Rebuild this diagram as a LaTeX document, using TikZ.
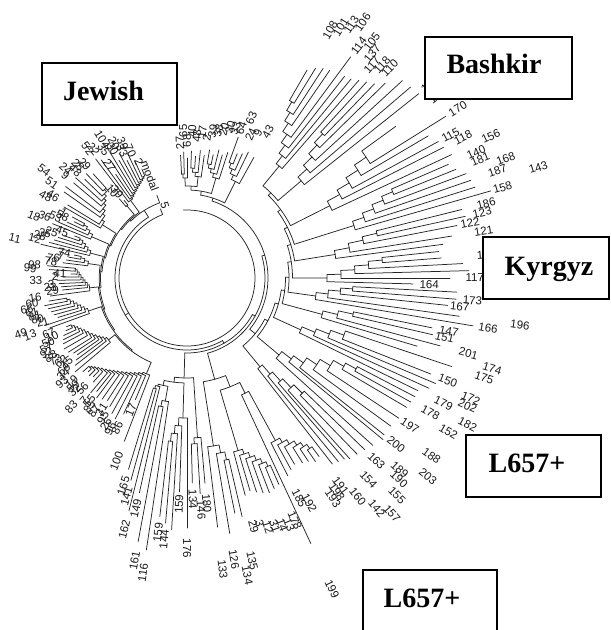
\documentclass[tikz,border=0pt]{standalone}
\usepackage{fontspec}
\setmainfont{Liberation Serif}
\newfontfamily\labfont{Liberation Sans}
\tikzset{
  br/.style={draw=black!85, line width=0.75pt, line cap=round},
  lab/.style={font=\labfont\fontsize{11.5}{11.5}\selectfont, inner sep=0.5pt, text=black!90},
  tag/.style={draw=black, line width=1.8pt, fill=white, inner sep=0pt},
  tagtext/.style={font=\bfseries\fontsize{28}{28}\selectfont, inner sep=0pt},
}
\makeatletter
\newcount\labcnt
\newcommand\leaflabel[3]{%
  \global\advance\labcnt by 1
  \pgfmathsetmacro\ladn{mod(#1+720,360)}%
  \ifdim\ladn pt>100pt
    \ifdim\ladn pt<270pt
      \node[lab,anchor=east,rotate=#1-180] (lab\the\labcnt) at (#1:#2 pt) {#3};
    \else
      \node[lab,anchor=west,rotate=#1] (lab\the\labcnt) at (#1:#2 pt) {#3};
    \fi
  \else
    \node[lab,anchor=west,rotate=#1] (lab\the\labcnt) at (#1:#2 pt) {#3};
  \fi
}
\newcommand\ladder[3]{%
  \edef\lad@list{#1}%
  \gdef\lad@m{0}%
  \foreach \ang/\tp/\lrad/\ltx in \lad@list {\pgfmathtruncatemacro\ladtmp{\lad@m+1}\xdef\lad@m{\ladtmp}}%
  \foreach \ang/\tp/\lrad/\ltx [count=\j] in \lad@list {%
    \ifdim\lrad pt>0pt \leaflabel{\ang}{\lrad}{\ltx}\fi
    \ifnum\j=1
      \xdef\lad@c{\ang}\xdef\lad@r{\tp}%
    \else
      \pgfmathsetmacro\ladR{#2+(\lad@m-\j)*#3}%
      \draw[br] (\ang:\tp pt) -- (\ang:\ladR pt);
      \draw[br] (\lad@c:\lad@r pt) -- (\lad@c:\ladR pt) arc[start angle=\lad@c, end angle=\ang, radius=\ladR pt];
      \pgfmathsetmacro\ladnc{(\lad@c+\ang)/2}%
      \xdef\lad@c{\ladnc}\xdef\lad@r{\ladR}%
    \fi
  }%
}
\gdef\clist{}
\gdef\blist{}
\newcommand\grp[3]{\ladder{#1}{#2}{#3}%
  \ifx\clist\empty \xdef\clist{\lad@c/\lad@r/0/x}\else \xdef\clist{\clist,\lad@c/\lad@r/0/x}\fi}
\newcommand\clade[2]{\ladder{\clist}{#1}{#2}\gdef\clist{}%
  \ifx\blist\empty \xdef\blist{\lad@c/\lad@r/0/x}\else \xdef\blist{\blist,\lad@c/\lad@r/0/x}\fi}
\newcommand\rootstem{\draw[br] (\lad@c:72pt) -- (\lad@c:68pt);}
\makeatother
\begin{document}
\begin{tikzpicture}
\useasboundingbox (0pt,0pt) rectangle (611pt,-630pt);
\clip (0pt,0pt) rectangle (611pt,-630pt);
\begin{scope}[shift={(187pt,-278pt)}]
% clade A (top)
\grp{93/123/128/27,91.5/126/140/65,90/120/130/68}{100}{4}
\grp{88/127/140/40,86/122/135/48,84/128/140/17,82/124/138/2}{102}{4}
\grp{80/130/142/39,78/126/144/38,76/132/146/20,74/128/150/30,72/132/150/33}{104}{4}
\grp{70/150/152/64,68/134/165/63,66/136/150/24,64/140/158/9,61/138/160/43}{108}{5}
\clade{84}{4}
% clade R (right)
\grp{60/240/276/108,58.5/246/284/101,57/250/292/113,55.5/252/300/106,53.5/275/279/114,52/256/290/105,50.5/258/281/137,49/262/272/117}{145}{10}
\grp{47.5/266/279/118,46/270/282/110,44.5/278/0/x,42.5/292/0/x,40.5/294/0/x,38.5/296/300/135}{150}{12}
\grp{36/258/300/136,32/305/309/170,30.5/280/0/x,28.5/286/290/115,27/288/300/118,25/292/325/156}{160}{14}
\grp{23.5/285/305/140,22/290/306/181,20.5/298/330/168,19/300/318/187,17.5/302/358/143,16/316/318/158}{175}{12}
\grp{14/283/298/186,12.5/285/292/123,11/275/278/122,9/268/290/121,7.5/258/0/x}{150}{15}
\grp{6/253/0/x,4.5/255/290/129,3/276/0/x,1.5/282/0/x,0/263/278/117,-1.5/226/232/164}{140}{14}
\grp{-3/270/0/x,-4.5/270/276/173,-6/262/264/167,-8/275/326/196,-9.5/290/295/166}{130}{12}
\grp{-11.5/250/257/147,-13/252/254/151,-15/262/281/201,-16.5/240/308/174}{140}{15}
\grp{-18.5/279/303/175,-21.5/262/270/150,-23/270/298/172,-24.5/266/298/202,-26/257/275/179}{125}{14}
\grp{-27.5/257/306/182,-29/256/268/178,-30.5/255/293/152,-33.5/254/257/197,-36/252/292/188,-38.5/252/257/200,-39.5/254/302/203,-42/250/276/189}{120}{12}
\grp{-44/247/253/163,-46/245/292/155,-48/243/261/154,-49/240/302/157,-50.5/238/288/142,-52/236/267/160}{115}{12}
\clade{88}{3.5}
% clade B (bottom)
\grp{-53.5/222/248/191,-55/224/251/198,-56.5/220/254/193,-58/218/0/x,-60/215/0/x,-61.5/218/246/192,-63/222/237/185}{185}{5}
\grp{-65/293/333/199}{0}{0}
\grp{-66/226/255/178,-67.5/228/260/13,-69/230/258/14,-70.5/228/256/31,-72/225/255/12,-73.5/222/252/3,-75/225/250/29}{180}{5}
\grp{-77/245/280/135,-78.5/240/293/134,-80.5/259/275/126,-83/251/283/133}{170}{8}
\clade{105}{12}
% clade BL (bottom left)
\grp{-107/200/207/165,-105.5/210/216/141,-104/240/249/162}{112}{3}
\grp{-102.5/220/226/149,-100.5/268/277/161,-98.5/275/288/116}{125}{6}
\grp{-96.5/240/246/159,-95/246/252/144,-93.5/252/0/x,-92/214/216/159,-90/250/260/176}{140}{8}
\grp{-88.5/205/211/134,-86.5/216/222/146,-85/206/216/180}{160}{6}
\clade{100}{5}
% clade L (left, Jewish)
\grp{-138/140/148/19,-136.5/136/150/59,-135/138/152/32,-133.5/136/145/56,-132/140/166/83,-130/150/156/7,-128.5/145/150/55,-127/150/155/85,-125/148/155/87,-123/146/150/31,-121/150/156/95,-119/155/160/26,-117/158/162/96,-115/150/158/86,-113/132/136/17,-111/175/186/100}{104}{2}
\grp{-158/130/142/67,-156.5/132/140/10,-155/136/146/50,-153.5/138/150/57,-152/140/152/92,-150/142/150/88,-148/140/148/73,-146.5/136/144/62,-145/134/140/15,-143.5/138/146/69,-142/142/150/34,-140/146/156/93}{100}{2.5}
\grp{-170.5/140/150/60,-169/145/156/66,-167.5/142/152/61,-166/140/150/81,-164.5/138/148/80,-163/135/144/21,-161.5/150/168/49,-160/146/160/13}{104}{3}
\grp{-185/140/146/98,-183.5/138/150/99,-182/116/120/41,-180.5/124/128/2,-179/130/144/33,-177.5/128/132/3,-176/126/130/23,-174.5/125/128/29,-172.5/138/146/16}{98}{2}
\grp{-191.5/115/118/74,-190/120/124/7,-188.5/122/128/76,-187/125/130/78}{100}{4}
\grp{-200.5/120/126/45,-199/130/136/25,-197.5/135/142/35,-196/138/146/28,-194.5/142/150/12,-193/150/170/11}{100}{3.5}
\grp{-208/130/136/1,-206.5/126/132/58,-205/132/138/53,-203.5/140/148/36,-202/145/158/18}{104}{4}
\grp{-228/140/146/29,-226/145/150/28,-224/142/148/48,-222/150/156/24,-220/148/155/9,-217/152/172/54,-215/150/158/51,-211.5/140/150/46,-210/142/156/48}{100}{3}
\grp{-231/100/104/39,-229.5/104/108/10}{94}{3}
\grp{-247.5/118/122/2,-246/128/132/70,-244.5/138/142/39,-243/132/136/33,-241.5/142/146/20,-240/136/142/30,-238.5/148/152/104,-237/140/146/35,-235.5/126/130/27,-234/146/152/22,-232.5/150/156/52}{96}{1.6}
\grp{-250/88/92/modal}{0}{0}
\clade{80}{1.3}
% backbone
\ladder{\blist}{72}{3}
\rootstem
\draw[br] (93:68pt) arc[start angle=93, end angle=-249, radius=68pt];
\draw[br] (-249:68pt) -- (-249:74pt);
\leaflabel{-253}{72}{5}
\node[lab,anchor=west,rotate=-43] (lab190) at (-43.5:282pt) {190};
\end{scope}
% group boxes
\node[tag, minimum width=135pt, minimum height=62pt] (jewishbox) at (109.5pt,-94pt) {};
\node[tagtext, anchor=base] (jewish) at (103.5pt,-100pt) {Jewish};
\node[tag, minimum width=147pt, minimum height=62pt] (bashkirbox) at (498.5pt,-68pt) {};
\node[tagtext, anchor=base] (bashkir) at (494pt,-73pt) {Bashkir};
\node[tag, minimum width=126pt, minimum height=62pt] (kyrgyzbox) at (546pt,-268pt) {};
\node[tagtext, anchor=base] (kyrgyz) at (549pt,-275pt) {Kyrgyz};
\node[tag, minimum width=135pt, minimum height=62pt] (lupbox) at (533.5pt,-466pt) {};
\node[tagtext, anchor=base] (lup) at (527pt,-472pt) {L657+};
\node[tag, minimum width=134pt, minimum height=70pt] (llowbox) at (430pt,-605pt) {};
\node[tagtext, anchor=base] (llow) at (422pt,-607pt) {L657+};
\end{tikzpicture}
\end{document}
